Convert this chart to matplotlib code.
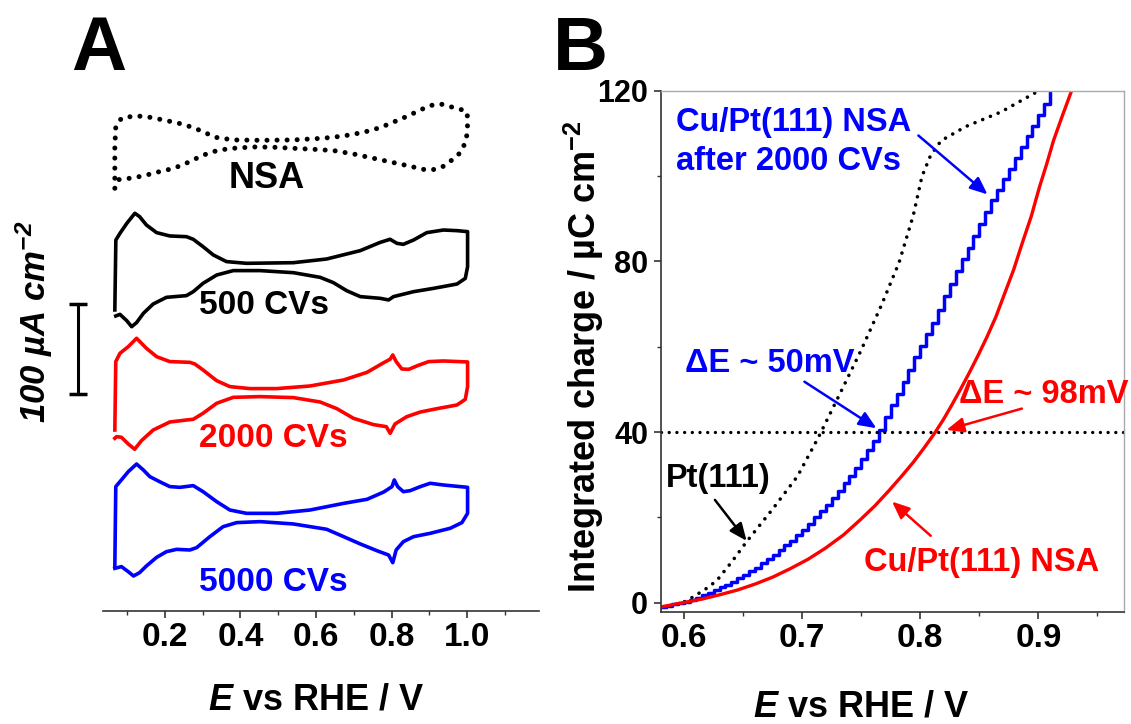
import numpy as np
import matplotlib
matplotlib.use("Agg")
import matplotlib.pyplot as plt
from matplotlib.ticker import FixedLocator, MultipleLocator

plt.rcParams['font.family'] = ['Liberation Sans', 'DejaVu Sans']
plt.rcParams['font.weight'] = 'bold'
plt.rcParams['axes.labelweight'] = 'bold'
plt.rcParams['mathtext.fontset'] = 'custom'
plt.rcParams['mathtext.rm'] = 'Liberation Sans:bold'
plt.rcParams['mathtext.it'] = 'Liberation Sans:italic:bold'
plt.rcParams['mathtext.bf'] = 'Liberation Sans:bold'
plt.rcParams['mathtext.default'] = 'regular'

# ---- panel A: CVs (E / V vs RHE, j / uA cm-2 relative to each trace's midline)
nsa_cv_E = [0.0675, 0.0675, 0.070, 0.085, 0.1205, 0.151, 0.204, 0.248, 0.279, 0.306, 0.332, 0.381, 0.452,
            0.540, 0.620, 0.673, 0.726, 0.770, 0.823, 0.849, 0.876, 0.902, 0.929, 0.955, 0.982, 1.000,
            1.001, 1.000, 0.995, 0.982, 0.960, 0.933, 0.907, 0.880, 0.853, 0.805, 0.752, 0.699, 0.646,
            0.593, 0.540, 0.487, 0.434, 0.381, 0.346, 0.319, 0.293, 0.266, 0.240, 0.213, 0.186, 0.160,
            0.133, 0.107, 0.085, 0.072]
nsa_cv_j = [-50, -3.7, 18.5, 27.8, 30.4, 29.6, 25.2, 21.1, 16.7, 11.9, 6.7, 3.7, 3.3,
            3.7, 5.6, 8.1, 12.2, 17.4, 26.7, 31.5, 37, 41.9, 43.7, 40.7, 37.8, 34.4,
            22.2, 11.1, 0.7, -10.4, -18.5, -26.7, -29.6, -28.9, -25.9, -21.5, -16.7, -11.9, -8.1,
            -6.7, -5.6, -4.4, -4.1, -5.6, -7.4, -10.4, -14.8, -20.4, -25.2, -28.9, -31.5, -34.4,
            -37, -38.9, -40, -40.7]

cv500_E = [0.0675, 0.0702, 0.081, 0.099, 0.1205, 0.133, 0.151, 0.178, 0.213, 0.257, 0.275, 0.301, 0.328,
           0.363, 0.416, 0.540, 0.628, 0.717, 0.770, 0.796, 0.814, 0.831, 0.858, 0.893, 0.937, 0.973, 1.001,
           1.001, 0.995, 0.973, 0.911, 0.858, 0.805, 0.792, 0.770, 0.717, 0.681, 0.646, 0.611, 0.540,
           0.452, 0.381, 0.337, 0.301, 0.275, 0.257, 0.204, 0.169, 0.143, 0.125, 0.112, 0.099, 0.081, 0.070]
cv500_j = [-48.1, 29.6, 37, 48, 59.3, 55.6, 46.3, 37.8, 34.1, 33.3, 30.4, 22.2, 13,
           5.6, 3.7, 4.4, 8.5, 17.8, 27, 30.4, 25.9, 24.8, 29.6, 37.8, 40.7, 40, 38.9,
           0, -13, -19.3, -24.1, -27.8, -33.3, -37, -35.2, -33.3, -26.7, -17.8, -11.9, -6.7,
           -4.4, -4.4, -9.3, -18.5, -27.8, -32.2, -34.1, -41.5, -51.9, -62.2, -66.7, -60, -53, -54.8]

cv2000_E = [0.0675, 0.070, 0.081, 0.103, 0.125, 0.151, 0.178, 0.213, 0.266, 0.279, 0.301, 0.337, 0.372,
            0.425, 0.496, 0.584, 0.673, 0.735, 0.779, 0.796, 0.803, 0.812, 0.827, 0.845, 0.871, 0.898,
            0.937, 1.001,
            1.001, 0.995, 0.973, 0.920, 0.876, 0.840, 0.809, 0.796, 0.786, 0.752, 0.699, 0.655, 0.611,
            0.540, 0.452, 0.381, 0.337, 0.301, 0.275, 0.257, 0.213, 0.169, 0.138, 0.120, 0.103, 0.085,
            0.072, 0.0675]
cv2000_j = [-41.7, 34.3, 43.5, 50.9, 60.2, 49.1, 39.8, 34.3, 33.5, 31.7, 25, 13.1, 6.5,
            4.3, 4.3, 7.2, 13.9, 22.4, 33.1, 36.9, 41.7, 34.3, 26.1, 25.7, 30.2, 34.3,
            35, 33.9,
            6.5, -7.6, -13.9, -18, -21.7, -26.9, -35, -45.4, -38, -35.7, -28.7, -18, -10.6,
            -5.7, -4.6, -5.4, -12, -23.1, -29.8, -30.6, -32.8, -41.7, -53.5, -63.1, -57.2, -49.8,
            -49.1, -50.9]

cv5000_E = [0.0675, 0.070, 0.081, 0.103, 0.125, 0.143, 0.160, 0.186, 0.213, 0.240, 0.275, 0.301, 0.337,
            0.372, 0.416, 0.496, 0.584, 0.673, 0.735, 0.779, 0.801, 0.807, 0.816, 0.831, 0.849, 0.876,
            0.902, 0.937, 1.001,
            1.001, 0.986, 0.955, 0.902, 0.858, 0.831, 0.812, 0.803, 0.792, 0.761, 0.717, 0.673, 0.628,
            0.540, 0.452, 0.390, 0.354, 0.319, 0.284, 0.266, 0.231, 0.204, 0.178, 0.151, 0.133, 0.117,
            0.103, 0.085, 0.0675]
cv5000_j = [-54.6, 34.3, 39.8, 50.9, 59.4, 52.8, 45.4, 39.8, 34.3, 33.5, 35.4, 28.7, 17.6,
            8.3, 4.6, 4.6, 8.3, 15.7, 20.2, 28.3, 34.3, 41.7, 34.3, 28.7, 29.8, 34.3,
            38, 36.1, 33.5,
            4.6, -5.7, -12, -17.6, -21.3, -26.9, -36.1, -50.2, -41.7, -36.9, -29.4, -21.3, -13.1,
            -7.2, -4.6, -5.7, -10.2, -21.3, -33.5, -36.1, -35.4, -38, -44.3, -53.9, -61.3, -65,
            -60.2, -54.6, -56.5]

cv_labels = ["NSA", "500 CVs", "2000 CVs", "5000 CVs"]
scale_bar = 100  # uA cm-2

# ---- panel B: integrated charge / uC cm-2
pt_E = [0.580, 0.590, 0.600, 0.6079, 0.6192, 0.6277, 0.6404, 0.6529, 0.6751, 0.6959, 0.7138, 0.7316,
        0.7494, 0.7672, 0.7821, 0.794, 0.8014, 0.8088, 0.8177, 0.8385, 0.8682, 0.8979]
pt_Q = [-1.3, -0.6, 0.2, 1.4, 3.4, 5.2, 9.6, 14.3, 22.0, 29.6, 38.8, 48.8,
        58.9, 69.8, 79.8, 90.7, 99.9, 104.9, 108.3, 111.6, 115.0, 119.6]

nsa_E = [0.580, 0.6009, 0.6157, 0.6306, 0.6454, 0.6603, 0.675, 0.690, 0.705, 0.7197, 0.735, 0.7494,
         0.7615, 0.7732, 0.784, 0.794, 0.803, 0.8118, 0.8195, 0.8266, 0.834, 0.8415, 0.849, 0.8563,
         0.864, 0.8712, 0.879, 0.886, 0.894, 0.9009, 0.907, 0.9128, 0.920, 0.9276]
nsa_Q = [-1.0, 0.1, 0.9, 1.9, 3.0, 4.4, 6.0, 8.0, 10.2, 12.8, 15.9, 19.5,
         22.7, 26.2, 29.6, 32.9, 36.2, 39.6, 42.9, 46.3, 50.0, 53.9, 58.0, 62.2,
         67.0, 72.3, 78.0, 84.0, 90.6, 97.4, 102.8, 108.3, 113.9, 119.6]

nsa2000_E = [0.580, 0.585, 0.590, 0.595, 0.600, 0.605, 0.610, 0.615, 0.620, 0.625, 0.630, 0.635,
             0.640, 0.645, 0.650, 0.655, 0.660, 0.665, 0.670, 0.675, 0.680, 0.685, 0.690, 0.695,
             0.700, 0.705, 0.710, 0.715, 0.720, 0.725, 0.730, 0.735, 0.740, 0.745, 0.750, 0.755,
             0.760, 0.765, 0.770, 0.775, 0.780, 0.785, 0.790, 0.795, 0.800, 0.805, 0.810, 0.815,
             0.820, 0.825, 0.830, 0.835, 0.840, 0.845, 0.850, 0.855, 0.860, 0.865, 0.870, 0.875,
             0.880, 0.885, 0.890, 0.895, 0.900, 0.905, 0.910]
nsa2000_Q = [-1.0, -0.7, -0.4, -0.1, 0.2, 0.6, 1.1, 1.7, 2.3, 3.0, 3.6, 4.2,
             4.9, 5.7, 6.6, 7.4, 8.2, 9.2, 10.2, 11.3, 12.4, 13.5, 14.5, 15.8,
             17.1, 18.5, 20.0, 21.4, 23.0, 24.6, 26.3, 28.0, 29.8, 31.6, 33.6, 35.7,
             38.0, 40.6, 43.5, 46.4, 49.0, 51.8, 54.6, 57.5, 60.2, 63.0, 65.6, 68.7,
             71.8, 74.8, 77.8, 80.5, 83.2, 86.0, 88.8, 91.6, 94.3, 96.8, 99.2, 101.6,
             104.2, 106.8, 109.3, 111.8, 114.3, 116.8, 119.6]
q_ref = 40

BLUE = '#0000ff'
RED = '#ff0000'
SPINE = '#333333'
dots = (0, (0.01, 2.3))

fig = plt.figure(figsize=(11.31, 7.24), dpi=100)
axA = fig.add_axes([0.09134, 0.15608, 0.38523, 0.71865])
axB = fig.add_axes([0.58400, 0.15511, 0.40981, 0.71961])

# panel A
offsets = [519.7, 382.6, 242.8, 103.9]
traces = [(nsa_cv_E, nsa_cv_j), (cv500_E, cv500_j), (cv2000_E, cv2000_j), (cv5000_E, cv5000_j)]
colors = ['k', 'k', RED, BLUE]
for (E, j), off, c, i in zip(traces, offsets, colors, range(4)):
    if i == 0:
        axA.plot(E, np.array(j) + off, color=c, lw=3.6, ls=(0, (0.01, 2.0)),
                 dash_capstyle='round')
    else:
        axA.plot(E, np.array(j) + off, color=c, lw=2.6, solid_joinstyle='round')

label_pos = [(0.469, 480.8, 26), (0.462, 338.9, 24), (0.486, 192.2, 24), (0.486, 32.2, 24)]
for txt, (x, y, fs), c in zip(cv_labels, label_pos, colors):
    axA.text(x, y, txt, color=c, fontsize=fs, ha='center', va='center')

# scale bar
axA.plot([-0.0297, -0.0297], [241.1, 241.1 + scale_bar], color='k', lw=2.2, clip_on=False,
         marker='_', ms=13, mew=2.5)
axA.text(-0.145, 321, '%d µA cm$^{-2}$' % scale_bar, rotation=90, ha='center', va='center',
         fontsize=25, style='italic', clip_on=False)

axA.set_xlim(0.037, 1.19)
axA.set_ylim(0, 578.1)
for s in ['left', 'top', 'right']:
    axA.spines[s].set_visible(False)
axA.spines['bottom'].set_color(SPINE)
axA.spines['bottom'].set_linewidth(1.2)
axA.set_yticks([])
axA.xaxis.set_major_locator(FixedLocator([0.2, 0.4, 0.6, 0.8, 1.0]))
axA.xaxis.set_minor_locator(FixedLocator([0.1, 0.3, 0.5, 0.7, 0.9, 1.1]))
axA.tick_params(axis='x', which='major', length=5, width=1.2, color=SPINE, labelsize=24, pad=3)
axA.tick_params(axis='x', which='minor', length=3, width=1.0, color=SPINE)
axA.set_xlabel(r'$\mathit{E}$ vs RHE / V', fontsize=26)
axA.xaxis.set_label_coords(0.4898, -0.138)

# panel B
axB.plot(pt_E, pt_Q, color='k', lw=2.6, ls=dots, dash_capstyle='round')
axB.step(nsa2000_E, nsa2000_Q, where='post', color=BLUE, lw=2.5)
axB.plot(nsa_E, nsa_Q, color=RED, lw=2.4)
axB.axhline(q_ref, color='k', lw=2.4, ls=dots, dash_capstyle='round')

axB.set_xlim(0.58, 0.9725)
axB.set_ylim(-2.1, 120)
for s in ['top', 'right']:
    axB.spines[s].set_color('#aaaaaa')
    axB.spines[s].set_linewidth(1.0)
for s in ['left', 'bottom']:
    axB.spines[s].set_color(SPINE)
    axB.spines[s].set_linewidth(1.2)
axB.xaxis.set_major_locator(MultipleLocator(0.1))
axB.xaxis.set_minor_locator(MultipleLocator(0.05))
axB.yaxis.set_major_locator(MultipleLocator(40))
axB.yaxis.set_minor_locator(MultipleLocator(20))
axB.tick_params(axis='x', which='major', length=5, width=1.2, color=SPINE, labelsize=24, pad=3)
axB.tick_params(axis='y', which='major', length=5, width=1.2, color=SPINE, labelsize=22, pad=4)
axB.tick_params(which='minor', length=3, width=1.0, color=SPINE)
axB.set_xlabel(r'$\mathit{E}$ vs RHE / V', fontsize=26)
axB.xaxis.set_label_coords(0.4326, -0.150)
axB.set_ylabel('Integrated charge / µC cm$^{-2}$', fontsize=26)
axB.yaxis.set_label_coords(-0.118, 0.49)

fs = 23.5
axB.text(0.5935, 110.6, 'Cu/Pt(111) NSA', color=BLUE, fontsize=fs, ha='left', va='baseline')
axB.text(0.5935, 101.4, 'after 2000 CVs', color=BLUE, fontsize=fs, ha='left', va='baseline')
axB.text(0.6009, 54.0, 'ΔE ~ 50mV', color=BLUE, fontsize=fs, ha='left', va='baseline')
axB.text(0.8326, 46.9, 'ΔE ~ 98mV', color=RED, fontsize=fs, ha='left', va='baseline')
axB.text(0.5846, 27.05, 'Pt(111)', color='k', fontsize=fs, ha='left', va='baseline')
axB.text(0.7524, 7.4, 'Cu/Pt(111) NSA', color=RED, fontsize=fs, ha='left', va='baseline')

arrows = [((0.7984, 109.5), (0.8569, 95.7), BLUE),
          ((0.7019, 51.8), (0.7628, 40.9), BLUE),
          ((0.886, 45.5), (0.8222, 40.5), RED),
          ((0.6261, 24.1), (0.6529, 14.5), 'k'),
          ((0.8088, 15.7), (0.7761, 23.7), RED)]
for tail, head, c in arrows:
    axB.annotate('', xy=head, xytext=tail,
                 arrowprops=dict(arrowstyle='-|>,head_length=0.7,head_width=0.3', color=c,
                                 lw=1.8, mutation_scale=15, shrinkA=0, shrinkB=0))

fig.text(0.0875, 1 - 70 / 724, 'A', fontsize=55, ha='center', va='baseline')
fig.text(0.5128, 1 - 70 / 724, 'B', fontsize=55, ha='center', va='baseline')

fig.savefig('out.png', dpi=100)
